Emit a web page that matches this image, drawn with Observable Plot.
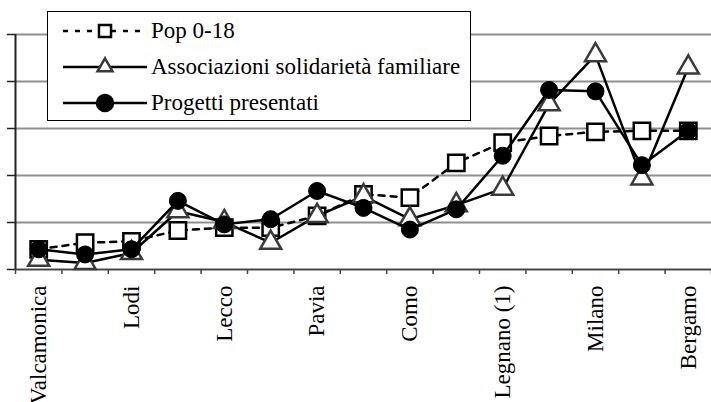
<!DOCTYPE html>
<html>
<head>
<meta charset="utf-8">
<script src="https://cdn.jsdelivr.net/npm/d3@7"></script>
<script src="https://cdn.jsdelivr.net/npm/@observablehq/plot@0.6"></script>
<style>
  html, body { margin: 0; padding: 0; background: #fff; }
  #wrap { position: relative; width: 711px; height: 402px; overflow: hidden; }
  #legend { position: absolute; left: 47px; top: 11px; }
</style>
</head>
<body>
<div id="wrap"></div>
<script>
// Categories (only every other one is labelled in the picture; unlabelled ones left blank)
const categories = ["Valcamonica", "", "Lodi", "", "Lecco", "", "Pavia", "", "Como", "", "Legnano (1)", "", "Milano", "", "Bergamo"];
const seriesNames = ["Pop 0-18", "Associazioni solidarietà familiare", "Progetti presentati"];
const pop   = [0.43, 0.57, 0.60, 0.83, 0.89, 0.89, 1.14, 1.60, 1.53, 2.27, 2.70, 2.84, 2.93, 2.95, 2.95];
const assoc = [0.21, 0.14, 0.35, 1.24, 1.01, 0.57, 1.14, 1.56, 1.07, 1.37, 1.72, 3.52, 4.56, 1.94, 4.30];
const prog  = [0.43, 0.32, 0.43, 1.46, 0.96, 1.07, 1.67, 1.31, 0.85, 1.28, 2.42, 3.82, 3.79, 2.22, 2.95];
const yTicks = [0, 1, 2, 3, 4, 5];

const rows = categories.map((c, i) => ({i, c, pop: pop[i], assoc: assoc[i], prog: prog[i]}));
const boundaries = d3.range(-0.5, categories.length, 1);
const labelPos = categories.map((c, i) => i).filter(i => categories[i] !== "");

const font = "Liberation Serif, Tinos, Times New Roman, DejaVu Serif, serif";

const chart = Plot.plot({
  width: 711,
  height: 402,
  marginLeft: 15,
  marginRight: 0,
  marginTop: 34,
  marginBottom: 133,
  style: {fontFamily: font, background: "white", color: "black"},
  x: {type: "linear", domain: [-0.5, categories.length - 0.5]},
  y: {domain: [0, 5]},
  marks: [
    Plot.gridY(yTicks, {stroke: "#8f8f8f", strokeWidth: 2, strokeOpacity: 1}),
    Plot.axisY(yTicks, {tickSize: 8, tickFormat: () => "", stroke: "#222", strokeWidth: 1.5, label: null}),
    Plot.ruleX([-0.5], {stroke: "#222", strokeWidth: 2}),
    Plot.ruleY([0], {stroke: "#444", strokeWidth: 1.5}),
    Plot.axisX(boundaries, {tickSize: 5, tickFormat: () => "", stroke: "#444", strokeWidth: 1.5, label: null}),
    Plot.axisX(labelPos, {tickSize: 0, tickPadding: 16, tickRotate: -90, tickFormat: i => categories[i], fontSize: 23, fontFamily: font, fill: "black", label: null}),
    // Pop 0-18
    Plot.line(rows, {x: "i", y: "pop", stroke: "black", strokeWidth: 2.5, strokeDasharray: "6,6"}),
    Plot.dot(rows, {x: "i", y: "pop", symbol: "square", r: 9.2, stroke: "black", fill: "white", strokeWidth: 2.5}),
    // Associazioni
    Plot.line(rows, {x: "i", y: "assoc", stroke: "black", strokeWidth: 2.5}),
    Plot.dot(rows, {x: "i", y: "assoc", symbol: "triangle", r: 7.8, stroke: "#3a3a3a", fill: "white", strokeWidth: 2.5}),
    // Progetti
    Plot.line(rows, {x: "i", y: "prog", stroke: "black", strokeWidth: 2.5}),
    Plot.dot(rows, {x: "i", y: "prog", r: 8.5, fill: "black", stroke: "black", strokeWidth: 1})
  ]
});

const wrap = document.getElementById("wrap");
wrap.appendChild(chart);

// Legend overlay
const lw = 424, lh = 110;
const leg = d3.create("svg").attr("id", "legend").attr("width", lw).attr("height", lh)
  .attr("font-family", font);
leg.append("rect").attr("x", 0.5).attr("y", 0.5).attr("width", lw - 1).attr("height", lh - 1)
  .attr("fill", "white").attr("stroke", "black").attr("stroke-width", 1);
const rowY = [20, 56, 92];
const styles = [
  {dash: "5,7", sym: d3.symbolSquare2, size: 185, fill: "white", stroke: "black"},
  {dash: null, sym: d3.symbolTriangle2, size: 160, fill: "white", stroke: "#3a3a3a"},
  {dash: null, sym: d3.symbolCircle, size: Math.PI * 64, fill: "black", stroke: "black"}
];
seriesNames.forEach((name, k) => {
  const y = rowY[k], s = styles[k];
  const ln = leg.append("line").attr("x1", 16).attr("x2", 100).attr("y1", y).attr("y2", y)
    .attr("stroke", "black").attr("stroke-width", 2.5);
  if (s.dash) ln.attr("stroke-dasharray", s.dash);
  leg.append("path").attr("transform", `translate(58,${y})`)
    .attr("d", d3.symbol(s.sym, s.size)())
    .attr("fill", s.fill).attr("stroke", s.stroke).attr("stroke-width", 2.5);
  leg.append("text").attr("x", 104).attr("y", y).attr("dy", "0.32em")
    .attr("font-size", 23).attr("font-family", font).attr("fill", "black").text(name);
});
wrap.appendChild(leg.node());
</script>
</body>
</html>
